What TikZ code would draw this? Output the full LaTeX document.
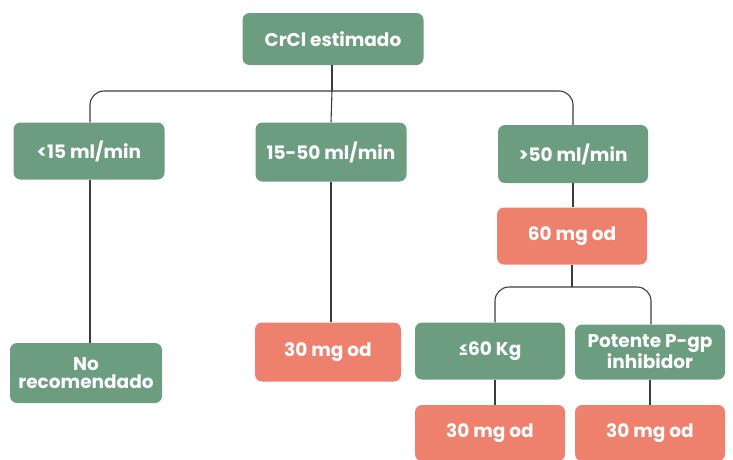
\documentclass[tikz,border=0pt]{standalone}
\usepackage{fontspec}
\setmainfont{Poppins}
\definecolor{gbox}{RGB}{108,157,128}
\definecolor{rbox}{RGB}{238,128,110}
\definecolor{lnc}{RGB}{60,60,60}
\begin{document}
\begin{tikzpicture}[x=1pt,y=-1pt,
  box/.style={rounded corners=7pt,minimum width=151pt,minimum height=57pt,inner sep=2pt,
    text=white,font=\bfseries\fontsize{18.5}{17.5}\selectfont,align=center},
  gb/.style={box,fill=gbox},
  rb/.style={box,fill=rbox},
  con/.style={draw=lnc,line width=1.1pt,rounded corners=14pt}]
\useasboundingbox (0,0) rectangle (733,459);
\node[gb,minimum width=181pt,minimum height=52pt] (root) at (333,39) {CrCl estimado};
\node[gb] (a) at (89,151) {<15 ml/min};
\node[gb,minimum height=59pt] (b) at (331,152) {15-50 ml/min};
\node[gb,minimum width=150pt,minimum height=58pt] (c) at (573,154) {>50 ml/min};
\node[rb,minimum width=150pt] (c1) at (572,236) {60 mg od};
\node[gb,minimum width=152pt,minimum height=60pt] (a1) at (86,373) {No\\recomendado};
\node[rb,minimum width=146pt,minimum height=59pt] (b1) at (328,352) {30 mg od};
\node[gb,minimum width=150pt] (d) at (490,351) {≤60 Kg};
\node[gb,minimum width=150pt,minimum height=55pt] (e) at (650,352) {Potente P-gp\\inhibidor};
\node[rb,minimum width=150pt,minimum height=56pt] (d1) at (490,433) {30 mg od};
\node[rb,minimum width=150pt,minimum height=56pt] (e1) at (650,433) {30 mg od};
\coordinate (j1) at (332,91);
\coordinate (j2) at (572,287);
\draw[con] (root.south -| j1) -- (j1);
\draw[con] (a.north -| 90,0) |- (j1) -| (c.north);
\draw[con] (j1) -- (b.north);
\draw[con] (a.south -| 90,0) -- (a1.north -| 90,0);
\draw[con] (b.south) -- (b1.north -| b.south);
\draw[con] (c.south) -- (c1.north -| c.south);
\draw[con] (c1.south) -- (j2);
\draw[con] (d.north -| 495,0) |- (j2) -| (e.north -| 651,0);
\draw[con] (d.south -| 495,0) -- (d1.north -| 495,0);
\draw[con] (e.south -| 650,0) -- (e1.north -| 650,0);
\end{tikzpicture}
\end{document}
